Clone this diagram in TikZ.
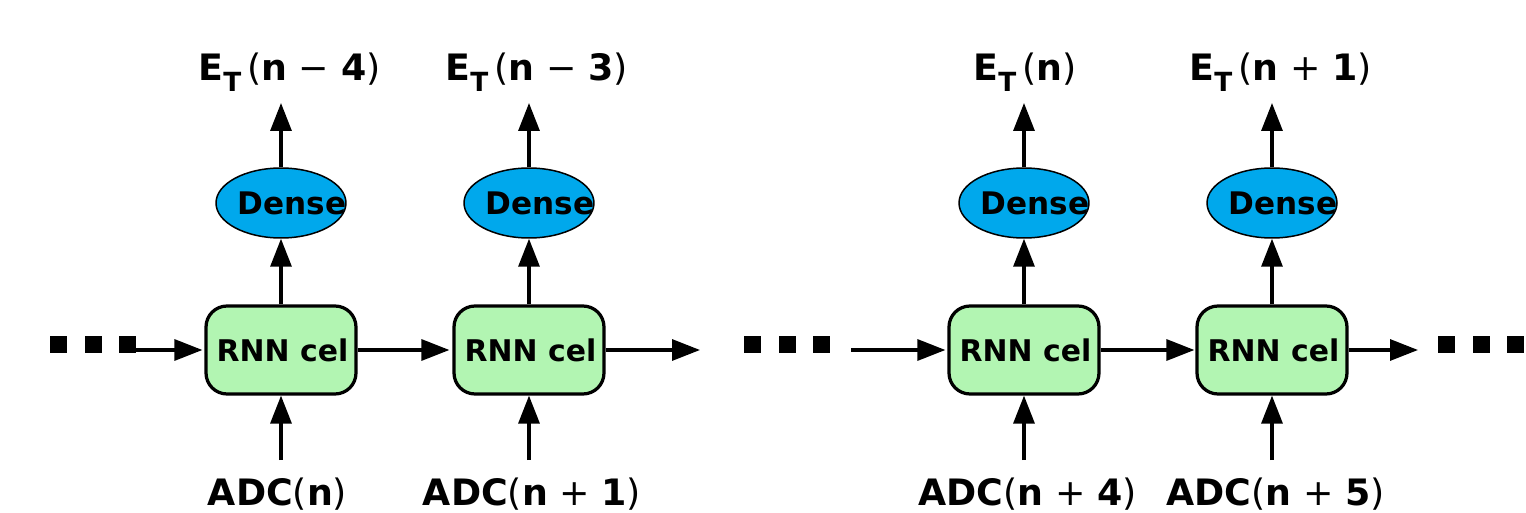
\documentclass[tikz,border=0pt]{standalone}
\usepackage{fontspec}
\setmainfont{DejaVu Sans}
\usetikzlibrary{shapes.geometric,arrows.meta}
\definecolor{cellgreen}{RGB}{178,245,178}
\definecolor{denseblue}{RGB}{0,168,236}
\tikzset{
  cellbox/.style={draw=black, line width=0.065cm, fill=cellgreen, rounded corners=0.42cm,
    minimum width=3cm, minimum height=1.76cm, inner sep=0pt,
    font=\fontsize{17}{19}\selectfont\bfseries},
  denseell/.style={ellipse, draw=black, line width=0.03cm, fill=denseblue,
    minimum width=2.6cm, minimum height=1.4cm, inner sep=0pt},
  densetxt/.style={inner sep=0pt, font=\fontsize{17.7}{19}\selectfont\bfseries},
  lbl/.style={inner sep=0pt, font=\fontsize{20.7}{22}\selectfont},
  arr/.style={line width=0.065cm, -{Triangle[length=0.56cm,width=0.42cm]}},
  sq/.style={fill=black, draw=none}
}
\newcommand{\ET}{\textbf{E}\raisebox{-0.3em}{\fontsize{15}{16}\selectfont\bfseries T}\,}
\begin{document}
\begin{tikzpicture}[x=0.02cm, y=-0.02cm]
\useasboundingbox (0,0) rectangle (1526,513);
% cells
\node[cellbox] (c1) at (281,350) {\hspace*{0.06cm}RNN cel};
\node[cellbox] (c2) at (529,350) {\hspace*{0.06cm}RNN cel};
\node[cellbox] (c3) at (1024,350) {\hspace*{0.06cm}RNN cel};
\node[cellbox] (c4) at (1272,350) {\hspace*{0.06cm}RNN cel};
% dense
\foreach \i/\x in {1/281,2/529,3/1024,4/1272}{
  \node[denseell] (d\i) at (\x,203) {};
  \node[densetxt] (dt\i) at (\x+11,203) {Dense};
}
% top labels
\node[lbl] (e1) at (289.5,72) {\ET(\textbf{n} − \textbf{4})};
\node[lbl] (e2) at (536.5,72) {\ET(\textbf{n} − \textbf{3})};
\node[lbl] (e3) at (1025,72) {\ET(\textbf{n})};
\node[lbl] (e4) at (1280.5,72) {\ET(\textbf{n} + \textbf{1})};
% bottom labels
\node[lbl] (a1) at (277.5,494) {\textbf{ADC}(\textbf{n})};
\node[lbl] (a2) at (532,494) {\textbf{ADC}(\textbf{n} + \textbf{1})};
\node[lbl] (a3) at (1027.5,494) {\textbf{ADC}(\textbf{n} + \textbf{4})};
\node[lbl] (a4) at (1275.5,494) {\textbf{ADC}(\textbf{n} + \textbf{5})};
% vertical arrows
\foreach \i/\x in {1/281,2/529,3/1024,4/1272}{
  \coordinate (in\i) at (\x,460);
  \coordinate (out\i) at (\x,103);
  \draw[arr] (in\i) -- (c\i.south);
  \draw[arr] (c\i.north) -- (d\i.south);
  \draw[arr] (d\i.north) -- (out\i);
}
% dots
\foreach \x in {50,85,119,744,779,813,1438,1473,1507}{
  \fill[sq] (\x,336) rectangle ++(17,17);
}
% horizontal arrows
\coordinate (h0) at (135,350);
\coordinate (h2) at (700,350);
\coordinate (h3) at (851,350);
\coordinate (h4) at (1418,350);
\draw[arr, shorten >=0.04cm] (h0) -- (c1.west);
\draw[arr, shorten >=0.06cm] (c1.east) -- (c2.west);
\draw[arr] (c2.east) -- (h2);
\draw[arr, shorten >=0.04cm] (h3) -- (c3.west);
\draw[arr, shorten >=0.02cm] (c3.east) -- (c4.west);
\draw[arr] (c4.east) -- (h4);
\end{tikzpicture}
\end{document}
